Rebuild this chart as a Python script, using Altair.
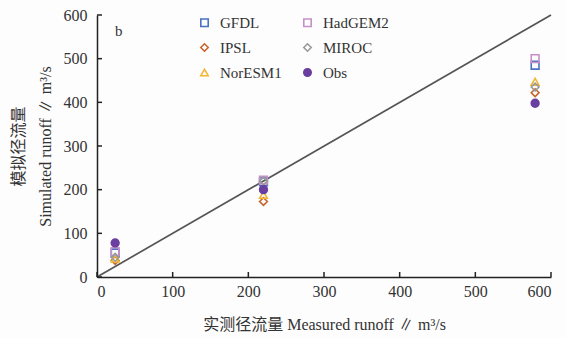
import altair as alt
import pandas as pd

series = ["GFDL", "IPSL", "NorESM1", "HadGEM2", "MIROC", "Obs"]
measured = [24, 220, 579]
gfdl = [55, 218, 485]
hadgem2 = [58, 222, 500]
ipsl = [38, 173, 422]
miroc = [45, 220, 435]
noresm1 = [42, 188, 447]
obs = [78, 200, 398]

colors = ["#4a72c0", "#c8642a", "#f2b630", "#c790c6", "#9a9a9a", "#6a3fa0"]
fills = ["transparent", "transparent", "transparent", "transparent", "transparent", "#6a3fa0"]
shapes = ["square", "diamond", "triangle-up", "square", "diamond", "circle"]

vals = {"GFDL": gfdl, "HadGEM2": hadgem2, "IPSL": ipsl, "MIROC": miroc,
        "NorESM1": noresm1, "Obs": obs}
rows = []
for s in series:
    for m, v in zip(measured, vals[s]):
        rows.append({"series": s, "measured": m, "simulated": v})
df = pd.DataFrame(rows)

line_df = pd.DataFrame({"a": [0, 600], "b": [0, 600]})
ticks = pd.DataFrame({"t": [0, 100, 200, 300, 400, 500, 600]})

FONT = "Liberation Serif, Noto Sans CJK SC"
xs = alt.Scale(domain=[0, 600], nice=False)
ys = alt.Scale(domain=[0, 600], nice=False)

line = alt.Chart(line_df).mark_line(color="#555555", strokeWidth=1.7).encode(
    x=alt.X("a:Q", scale=xs,
            axis=alt.Axis(values=[0, 100, 200, 300, 400, 500, 600],
                          title="实测径流量 Measured runoff ∥ m³/s", grid=False,
                          tickSize=0, labelPadding=6, titlePadding=17)),
    y=alt.Y("b:Q", scale=ys,
            axis=alt.Axis(values=[0, 100, 200, 300, 400, 500, 600],
                          title=["模拟径流量", "Simulated runoff ∥ m³/s"], grid=False,
                          tickSize=0, labelPadding=10, titlePadding=10,
                          titleLineHeight=27)),
)

yt = alt.Chart(ticks).mark_rule(color="#222", strokeWidth=1.5).encode(
    y=alt.Y("t:Q", scale=ys), x=alt.value(0), x2=alt.value(5))
xt = alt.Chart(ticks).mark_rule(color="#222", strokeWidth=1.5).encode(
    x=alt.X("t:Q", scale=xs), y=alt.value(262), y2=alt.value(257))

pts = alt.Chart(df).mark_point(size=60, strokeWidth=1.6, opacity=1).encode(
    x=alt.X("measured:Q", scale=xs),
    y=alt.Y("simulated:Q", scale=ys),
    color=alt.Color("series:N", sort=series, scale=alt.Scale(domain=series, range=colors),
                    legend=alt.Legend(title=None, orient="none", legendX=100, legendY=0,
                                      columns=2, columnPadding=18, rowPadding=9,
                                      labelFont=FONT, labelFontSize=15, labelColor="#333",
                                      symbolSize=55, symbolStrokeWidth=1.6, labelOffset=8)),
    fill=alt.Fill("series:N", sort=series, scale=alt.Scale(domain=series, range=fills), legend=None),
    shape=alt.Shape("series:N", sort=series, scale=alt.Scale(domain=series, range=shapes), legend=None),
)

label = alt.Chart(pd.DataFrame({"t": ["b"]})).mark_text(
    font=FONT, fontSize=15, color="#333", align="left", baseline="middle").encode(
    text="t:N", x=alt.value(18), y=alt.value(16))

chart = alt.layer(line, yt, xt, pts, label).properties(
    width=454, height=262,
    background="#fdfdfd",
    autosize=alt.AutoSizeParams(type="none"),
    padding={"left": 97, "top": 15, "right": 15, "bottom": 61},
).configure_view(stroke=None).configure_axis(
    domainColor="#222", domainWidth=1.5, labelFont=FONT, labelFontSize=16,
    labelColor="#333", titleFont=FONT, titleFontSize=16, titleColor="#333",
    titleFontWeight="normal",
)

chart.save("out.html", embed_options={"renderer": "svg", "actions": False})
